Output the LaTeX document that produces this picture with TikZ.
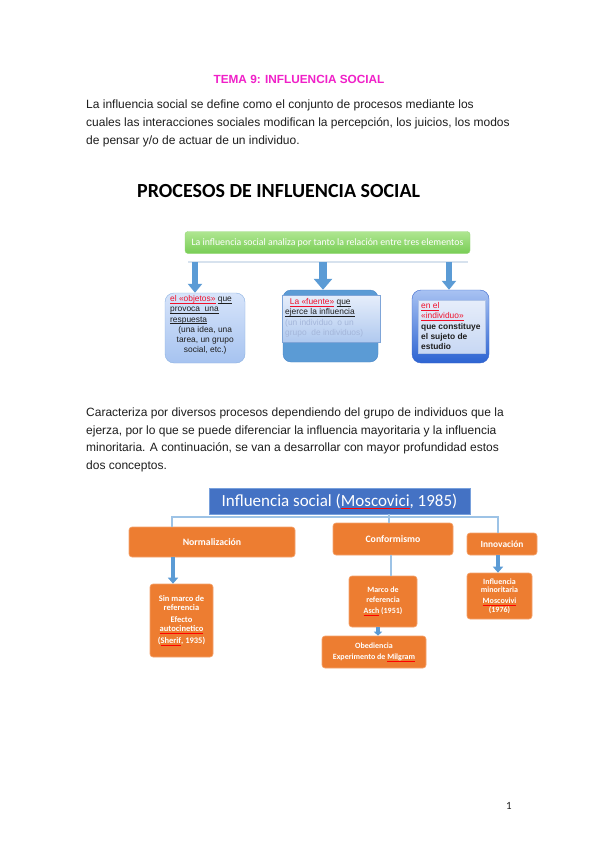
\documentclass[tikz,border=0pt]{standalone}
\usepackage{fontspec}
\setmainfont{Liberation Sans}
\newfontfamily\calib{Carlito}
\usetikzlibrary{arrows.meta}
\newcommand\uln[1]{\setbox0\hbox{#1}\leavevmode\rlap{\raisebox{-1.6pt}{\rule{\wd0}{0.5pt}}}\box0}
\newcommand\spell[1]{\setbox0\hbox{#1}\leavevmode\rlap{\raisebox{-2pt}{\color{red}\rule{\wd0}{0.45pt}}}\box0}
\definecolor{magtitle}{HTML}{F020C8}
\definecolor{txt}{HTML}{1E1E1E}
\definecolor{arrblue}{HTML}{5B9BD5}
\definecolor{connblue}{HTML}{9DC3E6}
\definecolor{orangebox}{HTML}{ED7D31}
\definecolor{orangeedge}{HTML}{F4A46E}
\definecolor{titleblue}{HTML}{4472C4}
\definecolor{redtxt}{HTML}{F0102A}
\definecolor{paleblue}{HTML}{A4B6DA}
\begin{document}
\begin{tikzpicture}[x=1pt,y=-1pt,
  para/.style={anchor=north west,inner sep=0pt,align=left,text=txt,font=\fontsize{12}{18}\selectfont},
  greenbox/.style={rounded corners=3pt,draw={rgb,255:red,150;green,215;blue,120},top color={rgb,255:red,175;green,230;blue,145},bottom color={rgb,255:red,120;green,205;blue,85},minimum width=285pt,minimum height=22pt,inner sep=0pt,text=white,font=\calib\fontsize{9.8}{11}\selectfont},
  lightline/.style={draw={rgb,255:red,215;green,226;blue,238},line width=1.2pt},
  barrow/.style={draw=arrblue,line width=6.5pt,-{Triangle[width=14pt,length=9pt]}},
  barrowbig/.style={draw=arrblue,line width=8.5pt,-{Triangle[width=18pt,length=11pt]}},
  smallbody/.style={font=\fontsize{8.4}{10.2}\selectfont,text=txt,inner sep=0pt},
  orng/.style={draw=orangeedge,line width=0.6pt,fill=orangebox,rounded corners=3pt,inner sep=0pt,align=center,text=white,font=\calib\bfseries\fontsize{8}{9.2}\selectfont},
  conn/.style={draw=connblue,line width=1.1pt},
  sarrow/.style={draw=arrblue,line width=4.5pt,-{Triangle[width=10pt,length=6pt]}},
  tarrow/.style={draw=arrblue,line width=3.5pt,-{Triangle[width=8pt,length=4pt]}}
]
\useasboundingbox (0,0) rectangle (599,848);
\fill[white] (0,0) rectangle (599,848);

% ---- header text ----
\node[text=magtitle,font=\bfseries\fontsize{11.8}{13}\selectfont,inner sep=0pt] (tema) at (299,79) {TEMA 9: INFLUENCIA SOCIAL};
\node[para] (p1) at (86,100) {La influencia social se define como el conjunto de procesos mediante los\\cuales las interacciones sociales modifican la percepción, los juicios, los modos\\de pensar y/o de actuar de un individuo.};

\node[anchor=base west,inner sep=0pt,text=black,font=\calib\bfseries\fontsize{20}{24}\selectfont] (proc) at (137,197) {PROCESOS DE INFLUENCIA SOCIAL};

% ---- first diagram ----
\node[greenbox] (green) at (327.5,242.5) {La influencia social analiza por tanto la relación entre tres elementos};

\coordinate (la) at (188,262);
\coordinate (lb) at (468,262);
\draw[lightline] (la) -- (lb);

% left box
\node[rounded corners=9pt,draw={rgb,255:red,140;green,178;blue,226},top color={rgb,255:red,215;green,228;blue,250},bottom color={rgb,255:red,166;green,195;blue,240},minimum width=80pt,minimum height=70pt,inner sep=0pt] (obj) at (205,328) {};
\node[smallbody,anchor=north west,align=left] (objt) at (170,295.5) {{\color{redtxt}\uln{el «objetos»}} \uln{que}\\\uln{provoca\ \ una}\\\uln{respuesta}\\\makebox[70pt][c]{(una idea, una}\\\makebox[70pt][c]{tarea, un grupo}\\\makebox[70pt][c]{social, etc.)}};

% centre box
\node[rounded corners=8pt,draw={rgb,255:red,74;green,134;blue,200},fill={rgb,255:red,91;green,155;blue,213},minimum width=95pt,minimum height=72pt,inner sep=0pt] (fte) at (330.5,326) {};
\node[draw={rgb,255:red,127;green,165;blue,216},top color={rgb,255:red,230;green,238;blue,251},bottom color={rgb,255:red,176;green,201;blue,239},minimum width=98pt,minimum height=47pt,inner sep=0pt] (fteover) at (331,318.5) {};
\node[smallbody,anchor=north west,align=left] (ftet) at (285,298.5) {\ \ {\color{redtxt}\uln{La «fuente»}} \uln{que}\\\uln{ejerce la influencia}\\{\color{paleblue}(un individuo\ \ o un}\\{\color{paleblue}grupo\ \ de individuos)}};

% right box
\node[rounded corners=9pt,draw={rgb,255:red,55;green,100;blue,205},top color={rgb,255:red,168;green,194;blue,242},bottom color={rgb,255:red,45;green,100;blue,210},minimum width=77pt,minimum height=73pt,inner sep=0pt] (ind) at (450.5,326.5) {};
\node[draw={rgb,255:red,176;green,196;blue,232},top color={rgb,255:red,230;green,237;blue,250},bottom color={rgb,255:red,200;green,216;blue,244},minimum width=67pt,minimum height=53pt,inner sep=0pt] (indin) at (451.5,326.5) {};
\node[smallbody,anchor=north west,align=left] (indt) at (421,302.5) {{\color{redtxt}\uln{en\ el}}\\{\color{redtxt}\uln{«individuo»}}\\\textbf{que constituye}\\\textbf{el sujeto de}\\\textbf{estudio}};

% arrows
\draw[barrow] (la -| 195,0) -- (195,0 |- obj.north);
\draw[barrowbig] (la -| 323,0) -- (323,0 |- fte.north);
\draw[barrow] (la -| 449,0) -- (449,0 |- ind.north);

% ---- second paragraph ----
\node[para,font=\fontsize{12}{17.8}\selectfont] (p2) at (86,407.5) {Caracteriza por diversos procesos dependiendo del grupo de individuos que la\\ejerza, por lo que se puede diferenciar la influencia mayoritaria y la influencia\\minoritaria. A continuación, se van a desarrollar con mayor profundidad estos\\dos conceptos.};

% ---- second diagram ----
\node[draw={rgb,255:red,120;green,160;blue,220},line width=0.6pt,fill=titleblue,minimum width=261pt,minimum height=26pt,inner sep=0pt,text=white,font=\calib\fontsize{17}{20}\selectfont] (mosc) at (339.5,501) {Influencia social (\spell{Moscovici}, 1985)};

\node[orng,font=\calib\bfseries\fontsize{9.8}{11}\selectfont,minimum width=166pt,minimum height=30pt] (norm) at (212,542) {Normalización};
\node[orng,font=\calib\bfseries\fontsize{9.8}{11}\selectfont,minimum width=120pt,minimum height=32pt] (conf) at (393,539) {Conformismo};
\node[orng,font=\calib\bfseries\fontsize{9.4}{11}\selectfont,minimum width=70pt,minimum height=22pt] (innov) at (502,544) {Innovación};
\node[orng,font=\calib\bfseries\fontsize{8.5}{9.2}\selectfont,minimum width=63pt,minimum height=73pt] (sinm) at (181.5,620.5) {Sin marco de\\referencia\\[3pt]Efecto\\\spell{autocinetico}\\[3pt](\spell{Sherif}, 1935)};
\node[orng,minimum width=68pt,minimum height=51pt] (marco) at (383,601.5) {Marco de\\referencia\\[2.5pt]\spell{Asch}\ (1951)};
\node[orng,minimum width=104pt,minimum height=32pt] (obed) at (374,652) {Obediencia\\[2pt]Experimento de \spell{Milgram}};
\node[orng,font=\calib\bfseries\fontsize{8}{8.6}\selectfont,minimum width=65pt,minimum height=46pt] (minor) at (499.5,596) {Influencia\\minoritaria\\[2.5pt]\spell{Moscovivi}\\(1976)};

\coordinate (cx) at (389,0);
\coordinate (cx2) at (391,0);
\coordinate (hl) at (172,517);
\coordinate (hr) at (498,517);
\draw[conn] (mosc.south -| cx) -- (conf.north -| cx);
\draw[conn] (norm.north -| hl) -- (hl) -- (hr) -- (innov.north -| hr);
\draw[conn] (conf.south -| cx2) -- (marco.north -| cx2);

\draw[sarrow] (norm.south -| 173,0) -- (sinm.north -| 173,0);
\draw[sarrow] (innov.south -| 498,0) -- (minor.north -| 498,0);
\draw[tarrow] (marco.south -| 378,0) -- (obed.north -| 378,0);

\node[inner sep=0pt,text=txt,font=\calib\fontsize{11}{13}\selectfont] (pg) at (509,806) {1};
\end{tikzpicture}
\end{document}
